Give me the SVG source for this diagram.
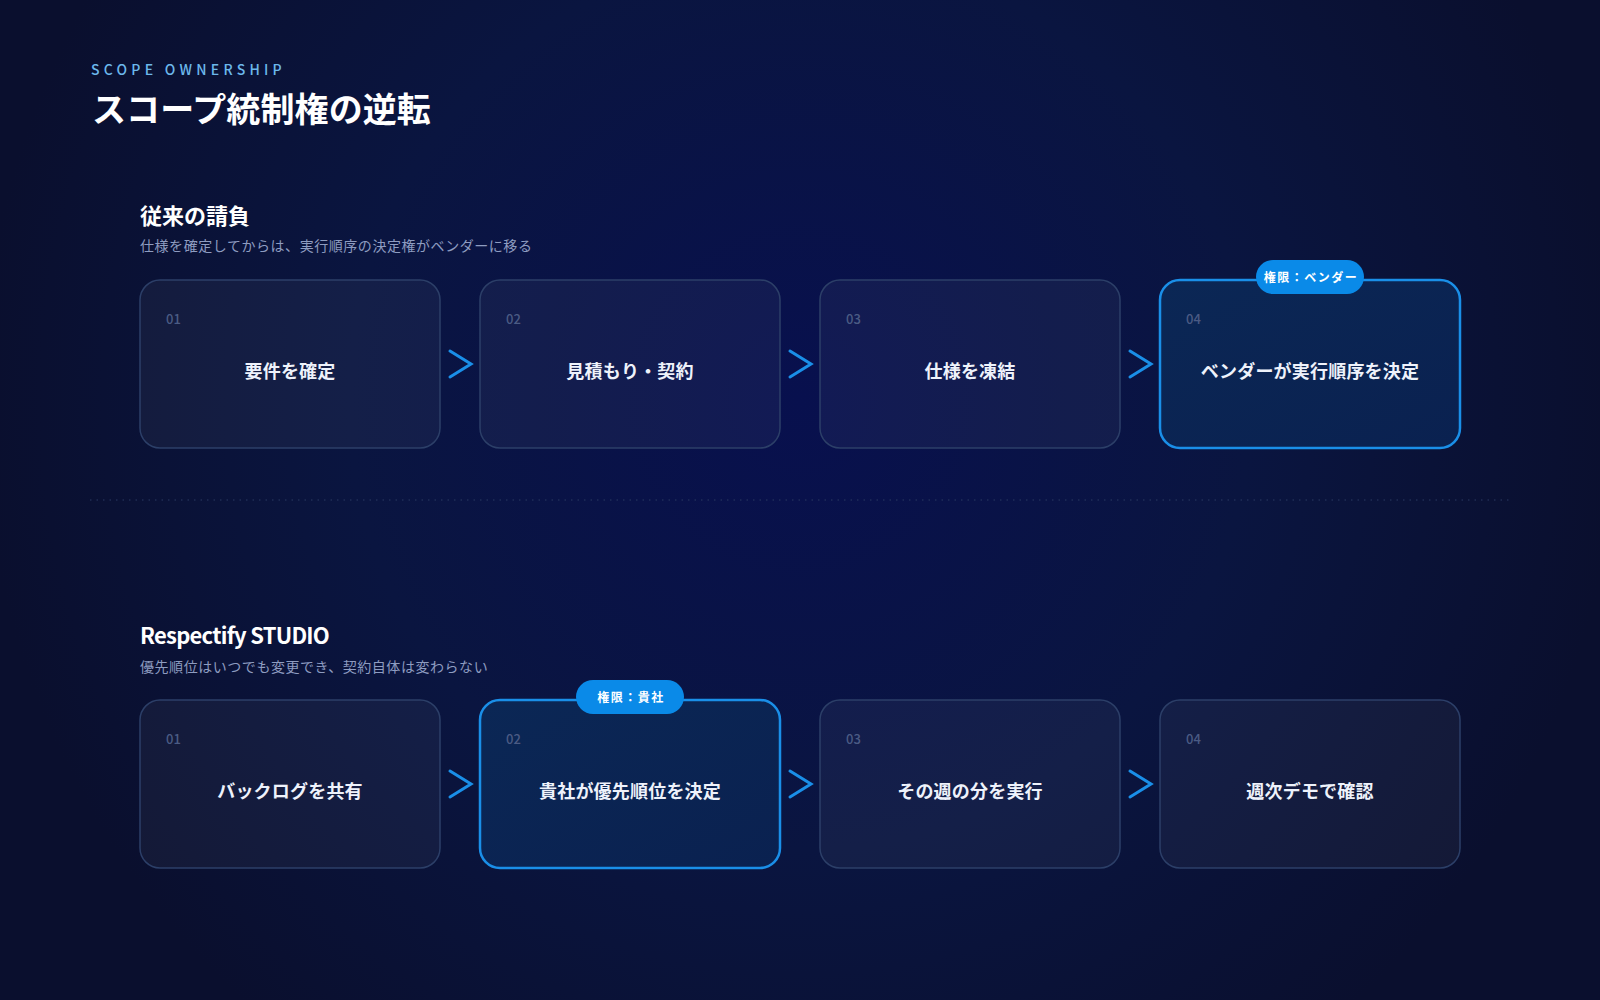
<svg xmlns="http://www.w3.org/2000/svg" width="1600" height="1000" viewBox="0 0 1600 1000">
<defs>
<radialGradient id="bg" cx="800" cy="400" r="820" gradientUnits="userSpaceOnUse">
<stop offset="0" stop-color="#08104e"/>
<stop offset="0.55" stop-color="#0a1540"/>
<stop offset="1" stop-color="#0a0f2e"/>
</radialGradient>
<linearGradient id="hl" x1="0" y1="0" x2="1" y2="1">
<stop offset="0" stop-color="#0b2755"/>
<stop offset="1" stop-color="#0a2150"/>
</linearGradient>
<style>
.f{font-family:"Noto Sans CJK JP","Noto Sans",sans-serif}
.box{fill:#ffffff;fill-opacity:0.045;stroke:#2c3f68;stroke-width:1.5}
.boxh{fill:url(#hl);stroke:#1a8fe8;stroke-width:2.5}
.num{font-family:"Noto Sans CJK JP","Noto Sans",sans-serif;font-size:13px;font-weight:500;fill:#4b5b84}
.lbl{font-family:"Noto Sans CJK JP","Noto Sans",sans-serif;font-size:18px;font-weight:700;fill:#eef2fb;text-anchor:middle;letter-spacing:0.2px}
.badge{fill:#0a8ae8}
.btx{font-family:"Noto Sans CJK JP","Noto Sans",sans-serif;font-size:12px;font-weight:700;fill:#ffffff;text-anchor:middle;letter-spacing:1.5px}
.chev{fill:none;stroke:#1a8fe8;stroke-width:3;stroke-linecap:round;stroke-linejoin:miter}
.h2{font-family:"Noto Sans CJK JP","Noto Sans",sans-serif;font-size:22px;font-weight:700;fill:#ffffff}
.sub{font-family:"Noto Sans CJK JP","Noto Sans",sans-serif;font-size:14px;fill:#8e9cc0;letter-spacing:0.55px}
</style>
</defs>
<rect x="0" y="0" width="1600" height="1000" fill="url(#bg)"/>

<g id="header">
<text x="91" y="75" class="f" font-size="14" font-weight="500" fill="#6cb8ec" letter-spacing="4.25">SCOPE OWNERSHIP</text>
<text x="92" y="122" class="f" font-size="34" font-weight="700" fill="#ffffff" letter-spacing="0.1">スコープ統制権の逆転</text>
</g>

<g id="section1-title">
<text x="140" y="224" class="h2">従来の請負</text>
<text x="140" y="251" class="sub">仕様を確定してからは、実行順序の決定権がベンダーに移る</text>
</g>

<line x1="90" y1="500" x2="1510" y2="500" stroke="#2a3a62" stroke-width="1" stroke-dasharray="1.5 5"/>

<g id="section2-title">
<text x="140" y="644" class="h2" letter-spacing="-0.75">Respectify STUDIO</text>
<text x="140" y="672" class="sub">優先順位はいつでも変更でき、契約自体は変わらない</text>
</g>

<g id="connectors">
<polyline class="chev" points="450,351 471,364 450,377"/>
<polyline class="chev" points="790,351 811,364 790,377"/>
<polyline class="chev" points="1130,351 1151,364 1130,377"/>
<polyline class="chev" points="450,771 471,784 450,797"/>
<polyline class="chev" points="790,771 811,784 790,797"/>
<polyline class="chev" points="1130,771 1151,784 1130,797"/>
</g>

<g id="a1">
<rect class="box" x="140" y="280" width="300" height="168" rx="20"/>
<text class="num" x="166" y="324">01</text>
<text class="lbl" x="290" y="378">要件を確定</text>
</g>
<g id="a2">
<rect class="box" x="480" y="280" width="300" height="168" rx="20"/>
<text class="num" x="506" y="324">02</text>
<text class="lbl" x="630" y="378">見積もり・契約</text>
</g>
<g id="a3">
<rect class="box" x="820" y="280" width="300" height="168" rx="20"/>
<text class="num" x="846" y="324">03</text>
<text class="lbl" x="970" y="378">仕様を凍結</text>
</g>
<g id="a4">
<rect class="boxh" x="1160" y="280" width="300" height="168" rx="20"/>
<text class="num" x="1186" y="324">04</text>
<text class="lbl" x="1310" y="378">ベンダーが実行順序を決定</text>
<rect class="badge" x="1256" y="260" width="108" height="34" rx="17"/>
<text class="btx" x="1311" y="281.5">権限：ベンダー</text>
</g>

<g id="b1">
<rect class="box" x="140" y="700" width="300" height="168" rx="20"/>
<text class="num" x="166" y="744">01</text>
<text class="lbl" x="290" y="798">バックログを共有</text>
</g>
<g id="b2">
<rect class="boxh" x="480" y="700" width="300" height="168" rx="20"/>
<text class="num" x="506" y="744">02</text>
<text class="lbl" x="630" y="798">貴社が優先順位を決定</text>
<rect class="badge" x="576" y="680" width="108" height="34" rx="17"/>
<text class="btx" x="631" y="701.5">権限：貴社</text>
</g>
<g id="b3">
<rect class="box" x="820" y="700" width="300" height="168" rx="20"/>
<text class="num" x="846" y="744">03</text>
<text class="lbl" x="970" y="798">その週の分を実行</text>
</g>
<g id="b4">
<rect class="box" x="1160" y="700" width="300" height="168" rx="20"/>
<text class="num" x="1186" y="744">04</text>
<text class="lbl" x="1310" y="798">週次デモで確認</text>
</g>
</svg>
